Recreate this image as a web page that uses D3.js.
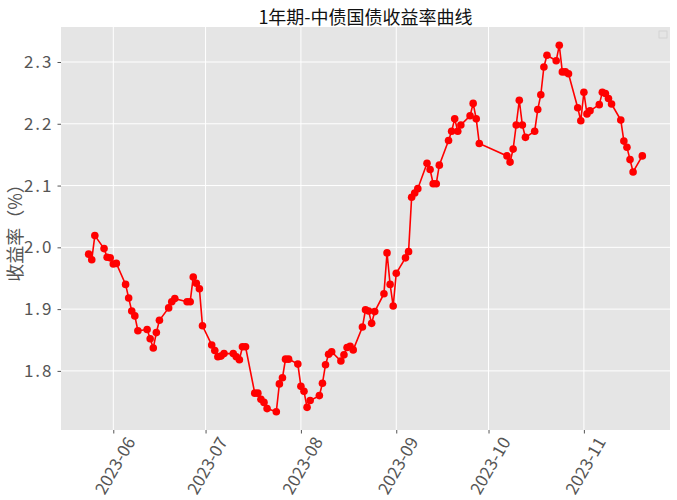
<!DOCTYPE html>
<html>
<head>
<meta charset="utf-8">
<script src="https://cdn.jsdelivr.net/npm/d3@7"></script>
<style>
  body { margin: 0; background: #fff; }
  svg text { font-family: "Noto Sans CJK SC", "Noto Sans", sans-serif; }
  .axis text { fill: #555; font-size: 17px; }
  .y-axis text { letter-spacing: 2px; }
  .axis line { stroke: #555; }
</style>
</head>
<body>
<div id="chart"></div>
<script>
// trading days (2023) and 1-year CGB yield
const dates = [
  '2023-05-24','2023-05-25','2023-05-26','2023-05-29','2023-05-30','2023-05-31',
  '2023-06-01','2023-06-02','2023-06-05','2023-06-06','2023-06-07','2023-06-08','2023-06-09',
  '2023-06-12','2023-06-13','2023-06-14','2023-06-15','2023-06-16','2023-06-19','2023-06-20',
  '2023-06-21','2023-06-25','2023-06-26','2023-06-27','2023-06-28','2023-06-29','2023-06-30',
  '2023-07-03','2023-07-04','2023-07-05','2023-07-06','2023-07-07','2023-07-10','2023-07-11',
  '2023-07-12','2023-07-13','2023-07-14','2023-07-17','2023-07-18','2023-07-19','2023-07-20',
  '2023-07-21','2023-07-24','2023-07-25','2023-07-26','2023-07-27','2023-07-28','2023-07-31',
  '2023-08-01','2023-08-02','2023-08-03','2023-08-04','2023-08-07','2023-08-08','2023-08-09',
  '2023-08-10','2023-08-11','2023-08-14','2023-08-15','2023-08-16','2023-08-17','2023-08-18',
  '2023-08-21','2023-08-22','2023-08-23','2023-08-24','2023-08-25','2023-08-28','2023-08-29',
  '2023-08-30','2023-08-31','2023-09-01','2023-09-04','2023-09-05','2023-09-06','2023-09-07',
  '2023-09-08','2023-09-11','2023-09-12','2023-09-13','2023-09-14','2023-09-15','2023-09-18',
  '2023-09-19','2023-09-20','2023-09-21','2023-09-22','2023-09-25','2023-09-26','2023-09-27',
  '2023-09-28','2023-10-07','2023-10-08','2023-10-09','2023-10-10','2023-10-11','2023-10-12',
  '2023-10-13','2023-10-16','2023-10-17','2023-10-18','2023-10-19','2023-10-20','2023-10-23',
  '2023-10-24','2023-10-25','2023-10-26','2023-10-27','2023-10-30','2023-10-31','2023-11-01',
  '2023-11-02','2023-11-03','2023-11-06','2023-11-07','2023-11-08','2023-11-09','2023-11-10',
  '2023-11-13','2023-11-14','2023-11-15','2023-11-16','2023-11-17','2023-11-20'
];

const yields = [
  1.989, 1.980, 2.019, 1.998, 1.984, 1.983,
  1.973, 1.974, 1.940, 1.918, 1.897, 1.889, 1.865,
  1.867, 1.852, 1.837, 1.862, 1.882, 1.902, 1.912,
  1.917, 1.912, 1.912, 1.952, 1.942, 1.933, 1.873,
  1.842, 1.833, 1.823, 1.824, 1.828, 1.828, 1.823,
  1.818, 1.839, 1.839, 1.764, 1.764, 1.754, 1.749,
  1.739, 1.734, 1.779, 1.789, 1.819, 1.819, 1.811,
  1.775, 1.767, 1.741, 1.752, 1.760, 1.780, 1.810,
  1.827, 1.831, 1.816, 1.826, 1.838, 1.840, 1.834,
  1.871, 1.899, 1.897, 1.877, 1.896, 1.925, 1.991,
  1.940, 1.905, 1.958, 1.983, 1.993, 2.081, 2.088,
  2.095, 2.136, 2.126, 2.103, 2.103, 2.133, 2.173,
  2.188, 2.208, 2.188, 2.198, 2.213, 2.233, 2.208,
  2.168, 2.148, 2.138, 2.159, 2.198, 2.238, 2.198,
  2.178, 2.188, 2.223, 2.247, 2.292, 2.311, 2.302,
  2.327, 2.284, 2.284, 2.281, 2.226, 2.205, 2.251,
  2.216, 2.221, 2.231, 2.251, 2.249, 2.241, 2.232,
  2.206, 2.172, 2.162, 2.142, 2.122, 2.148
];

const yTicks = [1.8, 1.9, 2.0, 2.1, 2.2, 2.3];
const chartTitle = '1年期-中债国债收益率曲线';
const yLabel = '收益率（%）';

class YieldChart {

  constructor(_config, _data) {
    this.config = {
      parentElement: _config.parentElement,
      containerWidth: 677,
      containerHeight: 500,
      margin: {top: 27, right: 7, bottom: 70, left: 61},
      padFraction: 0.05 // same autoscale margin as the source plot
    }
    this.data = _data;
    this.initVis();
  }

  initVis() {
    let vis = this;

    vis.width = vis.config.containerWidth - vis.config.margin.left - vis.config.margin.right;
    vis.height = vis.config.containerHeight - vis.config.margin.top - vis.config.margin.bottom;

    // pad both domains by 5% of the data span
    const xExtent = d3.extent(vis.data, d => d.date);
    const xPad = (xExtent[1] - xExtent[0]) * vis.config.padFraction;
    vis.xScale = d3.scaleTime()
      .domain([new Date(+xExtent[0] - xPad), new Date(+xExtent[1] + xPad)])
      .range([0, vis.width]);

    const yExtent = d3.extent(vis.data, d => d.value);
    const yPad = (yExtent[1] - yExtent[0]) * vis.config.padFraction;
    vis.yScale = d3.scaleLinear()
      .domain([yExtent[0] - yPad, yExtent[1] + yPad])
      .range([vis.height, 0]);

    vis.xTickValues = d3.timeMonth.range(d3.timeMonth.ceil(vis.xScale.domain()[0]), vis.xScale.domain()[1]);

    vis.svg = d3.select(vis.config.parentElement).append('svg')
      .attr('width', vis.config.containerWidth)
      .attr('height', vis.config.containerHeight);

    vis.chartArea = vis.svg.append('g')
      .attr('transform', `translate(${vis.config.margin.left},${vis.config.margin.top})`);

    // grey panel
    vis.chartArea.append('rect')
      .attr('width', vis.width)
      .attr('height', vis.height)
      .attr('fill', '#e5e5e5');

    // white grid lines
    vis.chartArea.append('g')
      .selectAll('line.grid-x')
      .data(vis.xTickValues)
      .join('line')
      .attr('class', 'grid-x')
      .attr('x1', d => vis.xScale(d))
      .attr('x2', d => vis.xScale(d))
      .attr('y1', 0)
      .attr('y2', vis.height)
      .attr('stroke', '#fff')
      .attr('stroke-width', 1);

    vis.chartArea.append('g')
      .selectAll('line.grid-y')
      .data(yTicks)
      .join('line')
      .attr('class', 'grid-y')
      .attr('x1', 0)
      .attr('x2', vis.width)
      .attr('y1', d => vis.yScale(d))
      .attr('y2', d => vis.yScale(d))
      .attr('stroke', '#fff')
      .attr('stroke-width', 1);

    vis.xAxis = d3.axisBottom(vis.xScale)
      .tickValues(vis.xTickValues)
      .tickFormat(d3.timeFormat('%Y-%m'))
      .tickSize(3.5)
      .tickPadding(4);

    vis.yAxis = d3.axisLeft(vis.yScale)
      .tickValues(yTicks)
      .tickFormat(d3.format('.1f'))
      .tickSize(3.5)
      .tickPadding(4);

    vis.xAxisGroup = vis.chartArea.append('g')
      .attr('class', 'axis x-axis')
      .attr('transform', `translate(0,${vis.height})`);

    vis.yAxisGroup = vis.chartArea.append('g')
      .attr('class', 'axis y-axis');

    vis.chart = vis.chartArea.append('g');

    vis.line = d3.line()
      .x(d => vis.xScale(d.date))
      .y(d => vis.yScale(d.value));

    // title and y label
    vis.svg.append('text')
      .attr('x', vis.config.margin.left + vis.width / 2)
      .attr('y', 16)
      .attr('text-anchor', 'middle')
      .attr('dominant-baseline', 'central')
      .attr('font-size', 18)
      .attr('fill', '#111')
      .text(chartTitle);

    vis.svg.append('text')
      .attr('transform', `translate(14,${vis.config.margin.top + vis.height / 2}) rotate(-90)`)
      .attr('text-anchor', 'middle')
      .attr('dominant-baseline', 'central')
      .attr('font-size', 18)
      .attr('fill', '#555')
      .text(yLabel);

    // empty legend box in the top right corner
    vis.chartArea.append('rect')
      .attr('x', vis.width - 11)
      .attr('y', 4)
      .attr('width', 8)
      .attr('height', 7)
      .attr('fill', '#e5e5e5')
      .attr('stroke', '#d0d0d0')
      .attr('stroke-width', 0.8);

    vis.renderVis();
  }

  renderVis() {
    let vis = this;

    vis.chart.append('path')
      .datum(vis.data)
      .attr('fill', 'none')
      .attr('stroke', '#ff0000')
      .attr('stroke-width', 1.6)
      .attr('d', vis.line);

    vis.chart.selectAll('.point')
      .data(vis.data)
      .join('circle')
      .attr('class', 'point')
      .attr('cx', d => vis.xScale(d.date))
      .attr('cy', d => vis.yScale(d.value))
      .attr('r', 3.8)
      .attr('fill', '#ff0000');

    vis.yAxisGroup.call(vis.yAxis)
      .call(g => g.select('.domain').remove());

    // rotated month labels, centred under each tick like the source
    vis.xAxisGroup.call(vis.xAxis)
      .call(g => g.select('.domain').remove())
      .call(g => g.selectAll('.tick text')
        .attr('y', 0)
        .attr('dy', null)
        .attr('text-anchor', 'middle')
        .attr('dominant-baseline', 'central')
        .attr('transform', 'translate(0,35) rotate(-60)'));
  }
}

const parseDate = d3.timeParse('%Y-%m-%d');
const data = dates.map((d, i) => ({date: parseDate(d), value: yields[i]}));

new YieldChart({parentElement: '#chart'}, data);
</script>
</body>
</html>
